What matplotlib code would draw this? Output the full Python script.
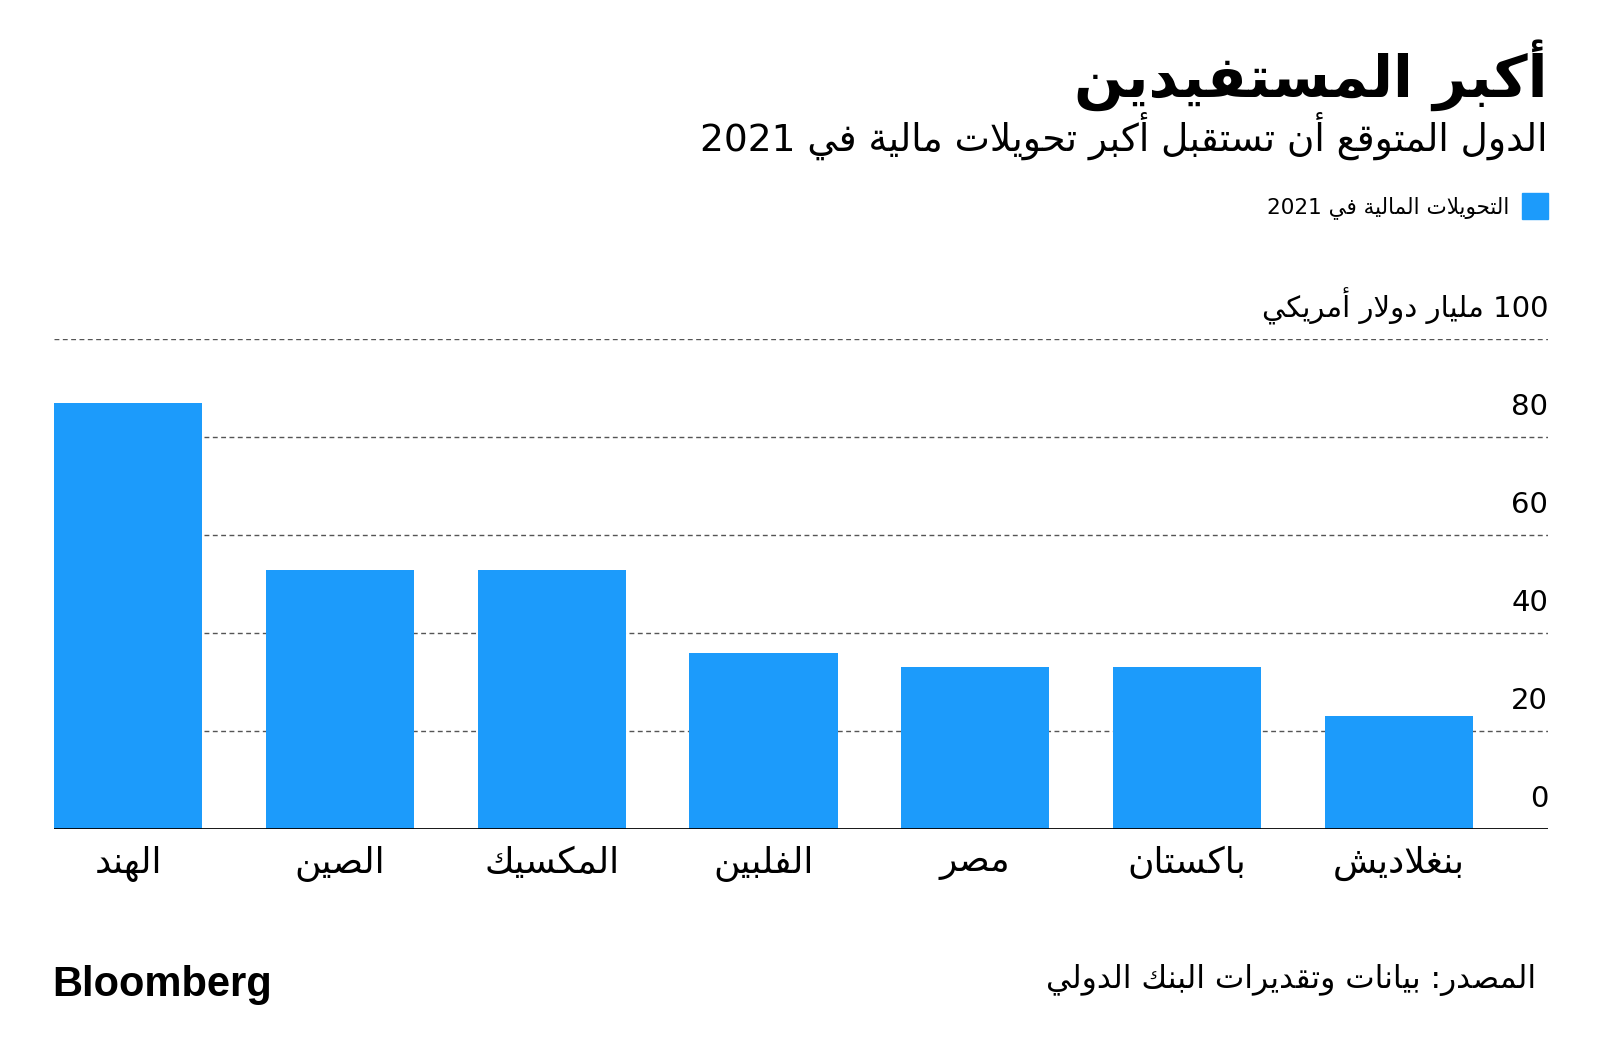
import re
import matplotlib
matplotlib.use("Agg")
import matplotlib.pyplot as plt
from matplotlib.transforms import blended_transform_factory, offset_copy

# ---------------- data ----------------
countries = ["الهند", "الصين", "المكسيك", "الفلبين", "مصر", "باكستان", "بنغلاديش"]
remittances = [87, 53, 53, 36, 33, 33, 23]
yticks = [0, 20, 40, 60, 80, 100]
ytick_labels = ["0", "20", "40", "60", "80", "100 مليار دولار أمريكي"]
title = "أكبر المستفيدين"
subtitle = "الدول المتوقع أن تستقبل أكبر تحويلات مالية في 2021"
legend_label = "التحويلات المالية في 2021"
source = "المصدر: بيانات وتقديرات البنك الدولي"
logo = "Bloomberg"

BLUE = "#1c9bfb"

# ---------------- minimal Arabic shaping (presentation forms + visual order) ----------------
# (isolated, final, initial, medial)
_F = {
    '\u0621': ('\uFE80', None, None, None),
    '\u0622': ('\uFE81', '\uFE82', None, None),
    '\u0623': ('\uFE83', '\uFE84', None, None),
    '\u0624': ('\uFE85', '\uFE86', None, None),
    '\u0625': ('\uFE87', '\uFE88', None, None),
    '\u0626': ('\uFE89', '\uFE8A', '\uFE8B', '\uFE8C'),
    '\u0627': ('\uFE8D', '\uFE8E', None, None),
    '\u0628': ('\uFE8F', '\uFE90', '\uFE91', '\uFE92'),
    '\u0629': ('\uFE93', '\uFE94', None, None),
    '\u062A': ('\uFE95', '\uFE96', '\uFE97', '\uFE98'),
    '\u062B': ('\uFE99', '\uFE9A', '\uFE9B', '\uFE9C'),
    '\u062C': ('\uFE9D', '\uFE9E', '\uFE9F', '\uFEA0'),
    '\u062D': ('\uFEA1', '\uFEA2', '\uFEA3', '\uFEA4'),
    '\u062E': ('\uFEA5', '\uFEA6', '\uFEA7', '\uFEA8'),
    '\u062F': ('\uFEA9', '\uFEAA', None, None),
    '\u0630': ('\uFEAB', '\uFEAC', None, None),
    '\u0631': ('\uFEAD', '\uFEAE', None, None),
    '\u0632': ('\uFEAF', '\uFEB0', None, None),
    '\u0633': ('\uFEB1', '\uFEB2', '\uFEB3', '\uFEB4'),
    '\u0634': ('\uFEB5', '\uFEB6', '\uFEB7', '\uFEB8'),
    '\u0635': ('\uFEB9', '\uFEBA', '\uFEBB', '\uFEBC'),
    '\u0636': ('\uFEBD', '\uFEBE', '\uFEBF', '\uFEC0'),
    '\u0637': ('\uFEC1', '\uFEC2', '\uFEC3', '\uFEC4'),
    '\u0638': ('\uFEC5', '\uFEC6', '\uFEC7', '\uFEC8'),
    '\u0639': ('\uFEC9', '\uFECA', '\uFECB', '\uFECC'),
    '\u063A': ('\uFECD', '\uFECE', '\uFECF', '\uFED0'),
    '\u0641': ('\uFED1', '\uFED2', '\uFED3', '\uFED4'),
    '\u0642': ('\uFED5', '\uFED6', '\uFED7', '\uFED8'),
    '\u0643': ('\uFED9', '\uFEDA', '\uFEDB', '\uFEDC'),
    '\u0644': ('\uFEDD', '\uFEDE', '\uFEDF', '\uFEE0'),
    '\u0645': ('\uFEE1', '\uFEE2', '\uFEE3', '\uFEE4'),
    '\u0646': ('\uFEE5', '\uFEE6', '\uFEE7', '\uFEE8'),
    '\u0647': ('\uFEE9', '\uFEEA', '\uFEEB', '\uFEEC'),
    '\u0648': ('\uFEED', '\uFEEE', None, None),
    '\u0649': ('\uFEEF', '\uFEF0', None, None),
    '\u064A': ('\uFEF1', '\uFEF2', '\uFEF3', '\uFEF4'),
}
_LAMALEF = {'\u0622': ('\uFEF5', '\uFEF6'), '\u0623': ('\uFEF7', '\uFEF8'),
            '\u0625': ('\uFEF9', '\uFEFA'), '\u0627': ('\uFEFB', '\uFEFC')}


def _joins_left(c):
    return c in _F and _F[c][2] is not None


def _joins_right(c):
    return c in _F and _F[c][1] is not None


def ar(text):
    out = []
    n = len(text)
    i = 0
    while i < n:
        c = text[i]
        prev = text[i - 1] if i > 0 else ''
        nxt = text[i + 1] if i + 1 < n else ''
        if c not in _F:
            out.append(c)
            i += 1
            continue
        conn_prev = _joins_left(prev) and _joins_right(c)
        if c == '\u0644' and nxt in _LAMALEF:
            out.append(_LAMALEF[nxt][1 if conn_prev else 0])
            i += 2
            continue
        conn_next = _joins_left(c) and _joins_right(nxt)
        iso, fin, ini, med = _F[c]
        if conn_prev and conn_next:
            out.append(med)
        elif conn_prev:
            out.append(fin)
        elif conn_next:
            out.append(ini)
        else:
            out.append(iso)
        i += 1
    s = ''.join(out)[::-1]
    return re.sub(r'[0-9A-Za-z.,%]+', lambda m: m.group(0)[::-1], s)


plt.rcParams['font.family'] = ['DejaVu Sans']

# ---------------- figure ----------------
W, H = 1600, 1060
fig = plt.figure(figsize=(W / 100, H / 100), dpi=100)
fig.patch.set_facecolor("white")


def fx(px):
    return px / W


def fy(py):
    return 1 - py / H


ax = fig.add_axes([fx(54), fy(829), fx(1548) - fx(54), fy(339.4) - fy(829)])
x = list(range(len(countries)))
ax.bar(x, remittances, width=0.7, color=BLUE, zorder=2)
ax.set_xlim(-0.35, 6.704)
ax.set_ylim(0, 100)

for v in yticks[1:]:
    ax.axhline(v, color="#555555", lw=1.0, ls=(0, (3.5, 2.5)), zorder=1)
ax.axhline(0, color="black", lw=2.0, zorder=3)

for s in ax.spines.values():
    s.set_visible(False)
ax.set_yticks([])
ax.set_xticks(x)
ax.set_xticklabels([ar(c) for c in countries], fontsize=26)
ax.tick_params(axis="x", length=0, pad=12)

trans = blended_transform_factory(ax.transAxes, ax.transData)
trans = offset_copy(trans, fig=fig, x=0, y=22, units="dots")
for v, lab in zip(yticks, ytick_labels):
    ax.text(1.0, v, ar(lab), transform=trans, ha="right", va="baseline",
            fontsize=21, color="black")

# ---------------- header ----------------
fig.text(fx(1547), fy(97), ar(title), ha="right", va="baseline",
         fontsize=42, fontweight="bold", color="black")
fig.text(fx(1548), fy(151), ar(subtitle), ha="right", va="baseline",
         fontsize=27, color="black")

# legend
fig.patches.append(plt.Rectangle((fx(1522), fy(219)), fx(26), 26 / H,
                                 transform=fig.transFigure, color=BLUE))
fig.text(fx(1509), fy(213), ar(legend_label), ha="right", va="baseline",
         fontsize=15.5, color="black")

# ---------------- footer ----------------
fig.text(fx(52), fy(996), logo, ha="left", va="baseline",
         fontsize=30, fontweight="bold", family="Liberation Sans", color="black")
fig.text(fx(1536), fy(988), ar(source), ha="right", va="baseline",
         fontsize=22.5, color="black")

fig.savefig("out.png", dpi=100, facecolor="white")
